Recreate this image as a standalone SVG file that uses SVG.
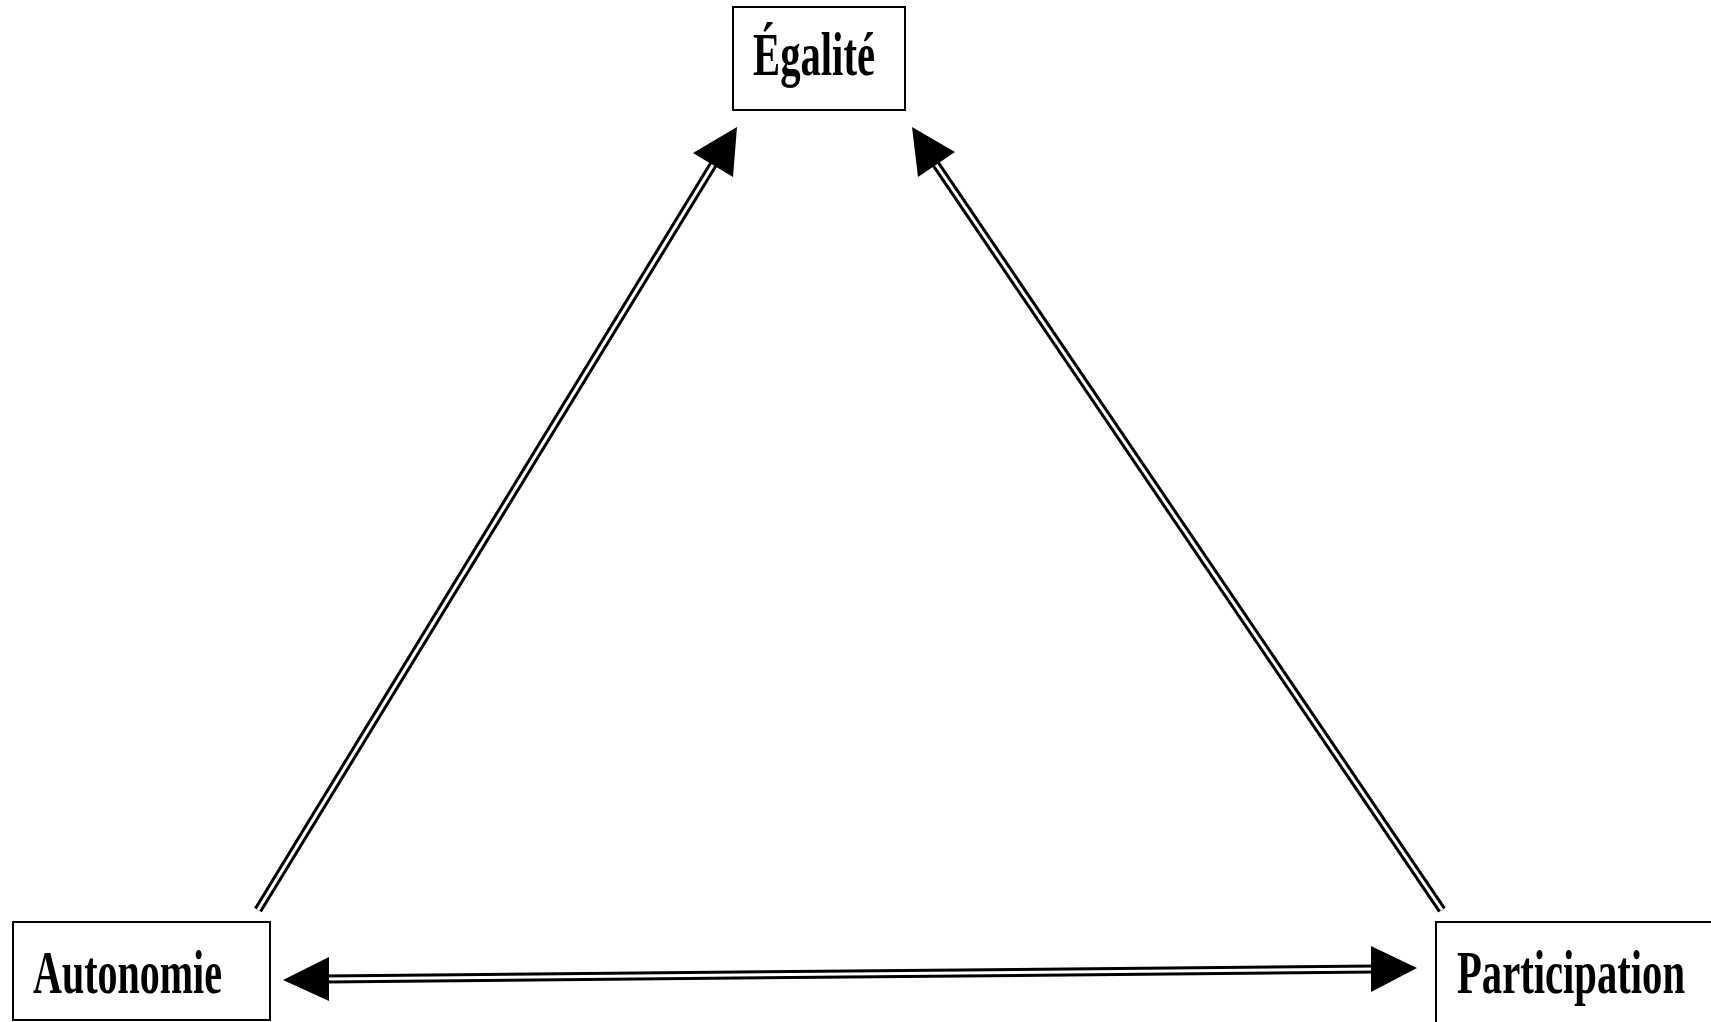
<svg xmlns="http://www.w3.org/2000/svg" width="1711" height="1022" viewBox="0 0 1711 1022">
  <style>
    .box { fill: #fff; stroke: #000; stroke-width: 2; }
    .lbl { font-family: "Liberation Serif", "DejaVu Serif", serif; font-size: 62px; font-weight: bold; fill: #000; }
    .outer { fill: none; stroke: #000; stroke-width: 9; }
    .inner { fill: none; stroke: #fff; stroke-width: 3; }
    .head { fill: #000; stroke: none; }
  </style>
  <rect width="1711" height="1022" fill="#fff"/>
  <g id="connectors">
    <g id="autonomie-egalite">
      <line class="outer" x1="258" y1="910" x2="716" y2="160"/>
      <line class="inner" x1="258" y1="910" x2="716" y2="160"/>
      <polygon class="head" points="737,127 693,153 733,177"/>
    </g>
    <g id="participation-egalite">
      <line class="outer" x1="1442" y1="910" x2="933" y2="160"/>
      <line class="inner" x1="1442" y1="910" x2="933" y2="160"/>
      <polygon class="head" points="912,127 955,152 918,177"/>
    </g>
    <g id="autonomie-participation">
      <line class="outer" x1="325" y1="979" x2="1375" y2="969"/>
      <line class="inner" x1="325" y1="979" x2="1375" y2="969"/>
      <polygon class="head" points="283,980 329,957 329,1001"/>
      <polygon class="head" points="1417,968 1371,946 1371,992"/>
    </g>
  </g>
  <g id="node-egalite">
    <rect class="box" x="733" y="7" width="172" height="103"/>
    <text class="lbl" x="753" y="75" textLength="122" lengthAdjust="spacingAndGlyphs">Égalité</text>
  </g>
  <g id="node-autonomie">
    <rect class="box" x="13" y="922" width="257" height="98"/>
    <text class="lbl" x="33" y="993" textLength="189" lengthAdjust="spacingAndGlyphs">Autonomie</text>
  </g>
  <g id="node-participation">
    <rect class="box" x="1436" y="922" width="300" height="120"/>
    <text class="lbl" x="1457" y="993" textLength="228" lengthAdjust="spacingAndGlyphs">Participation</text>
  </g>
</svg>
